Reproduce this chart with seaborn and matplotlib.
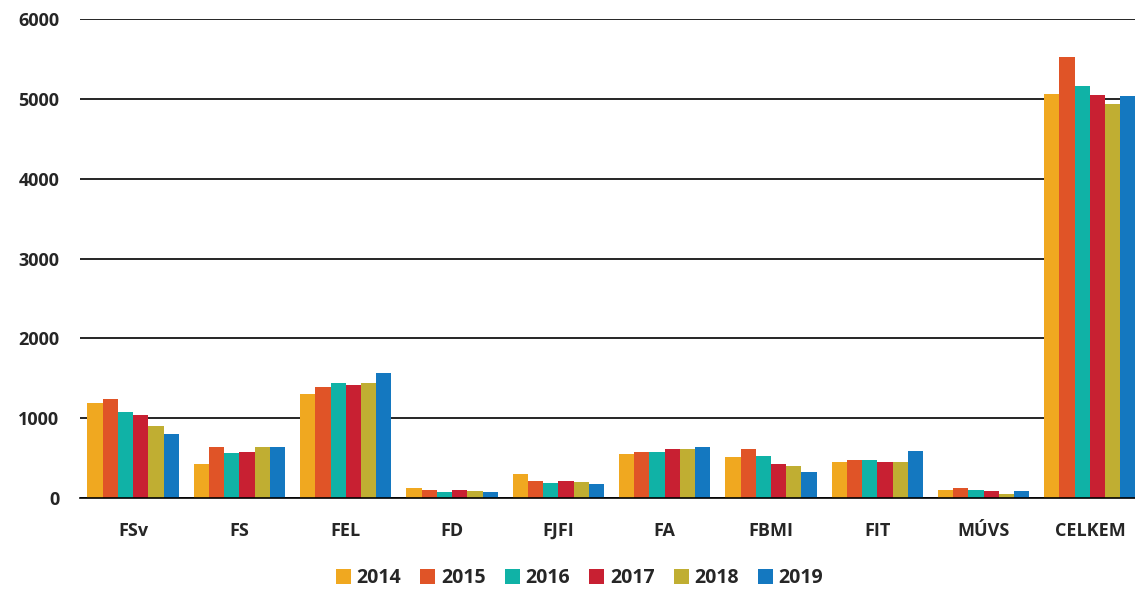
import pandas as pd
import matplotlib.pyplot as plt
import seaborn as sns

# Data
faculties = ['FSv', 'FS', 'FEL', 'FD', 'FJFI', 'FA', 'FBMI', 'FIT', 'MÚVS', 'CELKEM']
years = ['2014', '2015', '2016', '2017', '2018', '2019']
v2014 = [1190, 430, 1300, 120, 305, 545, 515, 455, 100, 5065]
v2015 = [1240, 635, 1390, 105, 215, 575, 615, 470, 125, 5520]
v2016 = [1080, 560, 1445, 70, 185, 575, 530, 480, 100, 5165]
v2017 = [1040, 575, 1420, 105, 215, 615, 430, 445, 85, 5045]
v2018 = [900, 645, 1435, 85, 205, 615, 395, 445, 55, 4930]
v2019 = [800, 635, 1570, 70, 170, 645, 320, 590, 90, 5030]
colors = ['#F0A820', '#E05427', '#10B2A6', '#C82032', '#C0AE32', '#1478C0']

series = [v2014, v2015, v2016, v2017, v2018, v2019]
rows = []
for yr, vals in zip(years, series):
    for fac, v in zip(faculties, vals):
        rows.append({'fakulta': fac, 'rok': yr, 'pocet': v})
df = pd.DataFrame(rows)

sns.set_style('white')
plt.rcParams['font.family'] = ['Open Sans', 'DejaVu Sans']

fig = plt.figure(figsize=(11.35, 5.89), dpi=100)
ax = fig.add_axes([0.0705, 0.1545, 0.9366, 0.8132])

sns.barplot(data=df, x='fakulta', y='pocet', hue='rok', order=faculties,
            hue_order=years, palette=colors, saturation=1, width=0.86,
            linewidth=0, ax=ax, legend=True)

ax.set_ylim(0, 6000)
ax.set_xlim(-0.5, len(faculties) - 0.5)
ax.set_yticks(range(0, 6001, 1000))
ax.yaxis.grid(True, color='black', linewidth=1.2)
ax.set_axisbelow(True)
for s in ['left', 'right', 'top']:
    ax.spines[s].set_visible(False)
ax.spines['bottom'].set_color('black')
ax.spines['bottom'].set_linewidth(1.2)

ax.set_xlabel('')
ax.set_ylabel('')
ax.tick_params(axis='y', length=0, pad=15, labelsize=13)
ax.tick_params(axis='x', which='major', length=0, pad=17, labelsize=13)
ax.set_xticks([i - 0.5 for i in range(len(faculties) + 1)], minor=True)
ax.tick_params(axis='x', which='minor', length=8, width=1.2, color='black', direction='out')
for lab in ax.get_xticklabels() + ax.get_yticklabels():
    lab.set_fontweight('bold')

leg = ax.legend(loc='upper center', bbox_to_anchor=(0.47, -0.11), ncol=6,
                frameon=False, handlelength=0.75, handleheight=0.75,
                handletextpad=0.3, columnspacing=1.0,
                prop={'size': 14, 'weight': 'bold'})

fig.savefig('out.png', dpi=100)
